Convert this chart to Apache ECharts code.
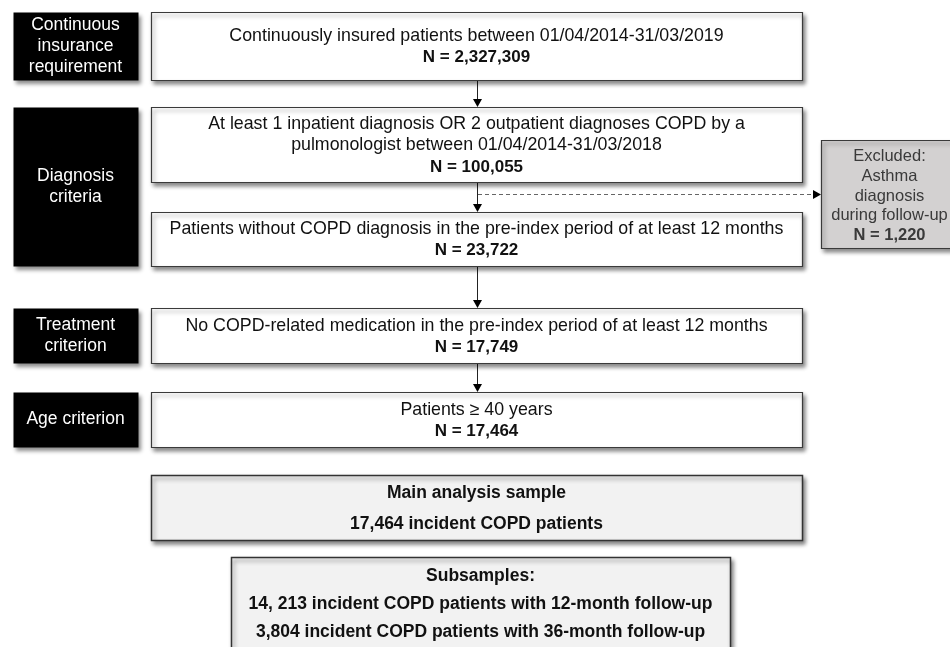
<!DOCTYPE html>
<html><head><meta charset="utf-8">
<script src="https://cdn.jsdelivr.net/npm/echarts@6/dist/echarts.min.js"></script>
<style>html,body{margin:0;padding:0;background:#fff}#chart{width:950px;height:647px}</style>
</head><body><div id="chart"></div>
<script>
// ---------- data ----------
const stageLabels = [
  ['Continuous', 'insurance', 'requirement'],
  ['Diagnosis', 'criteria'],
  ['Treatment', 'criterion'],
  ['Age criterion']
];
const stepDescriptions = [
  ['Continuously insured patients between 01/04/2014-31/03/2019'],
  ['At least 1 inpatient diagnosis OR 2 outpatient diagnoses COPD by a', 'pulmonologist between 01/04/2014-31/03/2018'],
  ['Patients without COPD diagnosis in the pre-index period of at least 12 months'],
  ['No COPD-related medication in the pre-index period of at least 12 months'],
  ['Patients \u2265 40 years']
];
const stepCounts = [2327309, 100055, 23722, 17749, 17464];
const excludedLines = ['Excluded:', 'Asthma', 'diagnosis', 'during follow-up'];
const excludedCount = 1220;
const mainSampleLines = ['Main analysis sample', '17,464 incident COPD patients'];
const subsampleLines = ['Subsamples:', '14, 213 incident COPD patients with 12-month follow-up', '3,804 incident COPD patients with 36-month follow-up'];

// ---------- layout (canvas units) ----------
const W = 950, H = 647;
const stageBoxes = [[13, 12, 138, 80], [13, 107, 138, 266], [13, 308, 138, 363], [13, 392, 138, 447]];
const stepBoxes = [[151, 12, 802, 80], [151, 107, 802, 182], [151, 212, 802, 266], [151, 308, 802, 363], [151, 392, 802, 447]];
const excludedBox = [821, 140, 958, 248];
const mainBox = [151, 475, 802, 540];
const subBox = [231, 557, 730, 652];
const flowX = 477;
const excludeY = 194;

const FONT = '"Liberation Sans", Arial, Helvetica, sans-serif';
const fmt = v => v.toLocaleString('en-US');

const nodes = [];
stageLabels.forEach((lines, i) => nodes.push({
  box: stageBoxes[i], fill: '#000', stroke: null,
  lines: lines.map(t => ({ text: t, bold: false })), size: 17.5, lh: 21, dy: 0, color: '#fff'
}));
stepDescriptions.forEach((lines, i) => nodes.push({
  box: stepBoxes[i], fill: '#fff', stroke: '#3a3a3a',
  lines: lines.map(t => ({ text: t, bold: false })).concat([{ text: 'N = ' + fmt(stepCounts[i]), bold: true }]),
  size: 17.8, bsize: 17, lh: 21.5, dy: 1, color: '#111'
}));
nodes.push({
  box: excludedBox, fill: '#d3d1d1', stroke: '#3a3a3a',
  lines: excludedLines.map(t => ({ text: t, bold: false })).concat([{ text: 'N = ' + fmt(excludedCount), bold: true }]),
  size: 16.5, bsize: 16.5, lh: 19.8, dy: 2, color: '#3a3a3a', cx: 889.5
});
nodes.push({
  box: mainBox, fill: '#f2f2f2', stroke: '#333', lw: 1.5,
  lines: mainSampleLines.map(t => ({ text: t, bold: true })), size: 17.5, bsize: 17.5, lh: 31, dy: 1, color: '#111'
});
nodes.push({
  box: subBox, fill: '#f2f2f2', stroke: '#333', lw: 1.5,
  lines: subsampleLines.map(t => ({ text: t, bold: true })), size: 17.5, bsize: 17.5, lh: 28, dy: -0.5, color: '#111'
});

const edges = [];
for (let i = 0; i < stepBoxes.length - 1; i++) {
  edges.push({ from: [flowX, stepBoxes[i][3]], to: [flowX, stepBoxes[i + 1][1]], dashed: false });
}
edges.push({ from: [flowX, excludeY], to: [excludedBox[0], excludeY], dashed: true });

function renderNode(params, api) {
  const n = nodes[params.dataIndex];
  const p0 = api.coord([n.box[0], n.box[1]]);
  const p1 = api.coord([n.box[2], n.box[3]]);
  const x = Math.round(p0[0]) + 0.5, y = Math.round(p0[1]) + 0.5;
  const w = Math.round(p1[0] - p0[0]), h = Math.round(p1[1] - p0[1]);
  const children = [{
    type: 'rect',
    shape: { x, y, width: w, height: h },
    style: {
      fill: n.fill, stroke: n.stroke || null, lineWidth: n.lw || 1.2,
      shadowBlur: 4, shadowOffsetX: 2, shadowOffsetY: 3, shadowColor: 'rgba(0,0,0,0.45)'
    }
  }];
  const cx = n.cx != null ? api.coord([n.cx, 0])[0] : (p0[0] + p1[0]) / 2;
  const cy = (p0[1] + p1[1]) / 2 + n.dy;
  const k = n.lines.length;
  n.lines.forEach((ln, i) => {
    children.push({
      type: 'text',
      style: {
        text: ln.text, x: cx, y: cy + (i - (k - 1) / 2) * n.lh,
        fill: n.color, align: 'center', verticalAlign: 'middle',
        font: (ln.bold ? 'bold ' : '') + (ln.bold ? (n.bsize || n.size) : n.size) + 'px ' + FONT
      },
      z2: 10
    });
  });
  return { type: 'group', children };
}

function renderEdge(params, api) {
  const e = edges[params.dataIndex];
  const a = api.coord(e.from), b = api.coord(e.to);
  const vertical = Math.abs(a[0] - b[0]) < 1;
  const head = 8, half = 4.5;
  let lineEnd, tri;
  if (vertical) {
    const X = Math.round(a[0]) + 0.5;
    lineEnd = [X, b[1] - head];
    tri = [[X - half, b[1] - head], [X + half, b[1] - head], [X, b[1]]];
    return { type: 'group', children: [
      { type: 'line', shape: { x1: X, y1: a[1], x2: lineEnd[0], y2: lineEnd[1] }, style: { stroke: '#222', lineWidth: 1 } },
      { type: 'polygon', shape: { points: tri }, style: { fill: '#000' } }
    ] };
  }
  const Y = Math.round(a[1]) + 0.5;
  tri = [[b[0] - head, Y - half], [b[0] - head, Y + half], [b[0], Y]];
  return { type: 'group', children: [
    { type: 'line', shape: { x1: a[0] + 1, y1: Y, x2: b[0] - head, y2: Y }, style: { stroke: '#666', lineWidth: 1, lineDash: [4, 3] } },
    { type: 'polygon', shape: { points: tri }, style: { fill: '#000' } }
  ] };
}

const chart = echarts.init(document.getElementById('chart'), null, { renderer: 'canvas' });
chart.setOption({
  animation: false,
  backgroundColor: '#fff',
  grid: { left: 0, right: 0, top: 0, bottom: 0 },
  xAxis: { type: 'value', min: 0, max: W, show: false },
  yAxis: { type: 'value', min: 0, max: H, inverse: true, show: false },
  series: [
    { type: 'custom', renderItem: renderEdge, data: edges.map((e, i) => [i]), clip: false, silent: true, z: 1 },
    { type: 'custom', renderItem: renderNode, data: nodes.map((n, i) => [i]), clip: false, silent: true, z: 2 }
  ]
});
</script>
</body></html>
